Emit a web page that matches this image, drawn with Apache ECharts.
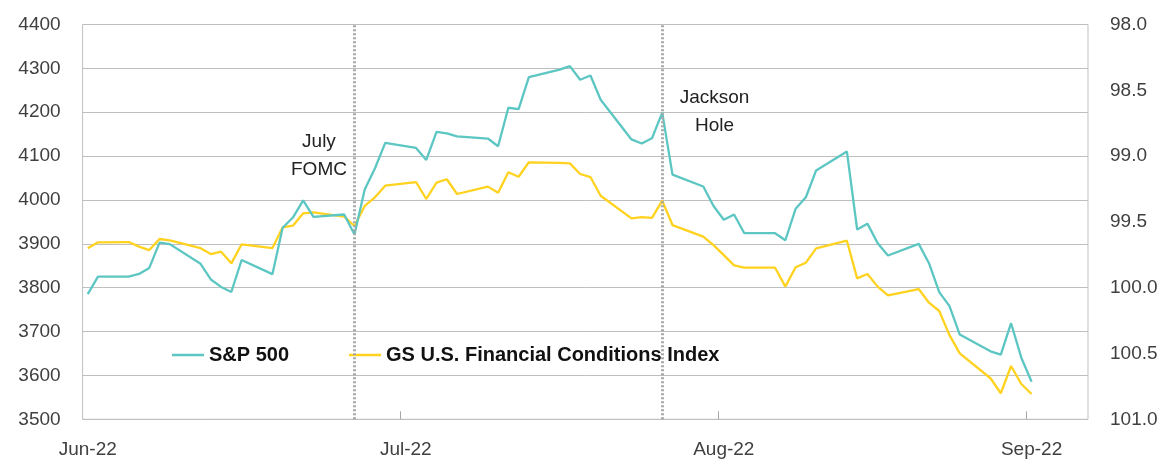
<!DOCTYPE html>
<html>
<head>
<meta charset="utf-8">
<script src="https://cdn.jsdelivr.net/npm/echarts@6/dist/echarts.min.js"></script>
<style>
html,body{margin:0;padding:0;background:#fff;}
#chart{width:1163px;height:462px;}
</style>
</head>
<body>
<div id="chart"></div>
<script>
const dates = ['2022-06-30','2022-07-01','2022-07-04','2022-07-05','2022-07-06','2022-07-07','2022-07-08',
'2022-07-11','2022-07-12','2022-07-13','2022-07-14','2022-07-15','2022-07-18','2022-07-19','2022-07-20',
'2022-07-21','2022-07-22','2022-07-25','2022-07-26','2022-07-27','2022-07-28','2022-07-29','2022-08-01',
'2022-08-02','2022-08-03','2022-08-04','2022-08-05','2022-08-08','2022-08-09','2022-08-10','2022-08-11',
'2022-08-12','2022-08-15','2022-08-16','2022-08-17','2022-08-18','2022-08-19','2022-08-22','2022-08-23',
'2022-08-24','2022-08-25','2022-08-26','2022-08-29','2022-08-30','2022-08-31','2022-09-01','2022-09-02',
'2022-09-05','2022-09-06','2022-09-07','2022-09-08','2022-09-09','2022-09-12','2022-09-13','2022-09-14',
'2022-09-15','2022-09-16','2022-09-19','2022-09-20','2022-09-21','2022-09-22','2022-09-23','2022-09-26',
'2022-09-27','2022-09-28','2022-09-29','2022-09-30'];

const sp500 = [3785.38,3825.33,3825.33,3831.39,3845.08,3902.62,3899.38,
3854.43,3818.80,3801.78,3790.38,3863.16,3830.85,3936.69,3959.90,
3998.95,3961.63,3966.84,3921.05,4023.61,4072.43,4130.29,4118.63,
4091.19,4155.17,4151.94,4145.19,4140.06,4122.47,4210.24,4207.27,
4280.15,4297.14,4305.20,4274.04,4283.74,4228.48,4137.99,4128.73,
4140.77,4199.12,4057.66,4030.61,3986.16,3955.00,3966.85,3924.26,
3924.26,3908.19,3979.87,4006.18,4067.36,4110.41,3932.69,3946.01,
3901.35,3873.33,3899.89,3855.93,3789.93,3757.99,3693.23,3655.04,
3647.29,3719.04,3640.47,3585.62];

const fci = [99.700,99.655,99.653,99.688,99.714,99.630,99.640,
99.700,99.744,99.726,99.815,99.670,99.700,99.541,99.529,
99.435,99.427,99.460,99.531,99.379,99.313,99.225,99.197,
99.326,99.202,99.176,99.288,99.232,99.278,99.123,99.157,
99.047,99.052,99.055,99.136,99.159,99.301,99.473,99.463,
99.470,99.339,99.524,99.612,99.676,99.752,99.830,99.848,
99.848,99.992,99.845,99.810,99.701,99.643,99.929,99.896,
99.992,100.058,100.010,100.114,100.177,100.360,100.499,100.688,
100.802,100.595,100.732,100.808];

const tickLabels = ['Jun-22','Jul-22','Aug-22','Sep-22'];
const tickDates = ['2022-06-30','2022-07-31','2022-08-31','2022-09-30'];
const axisEndDate = '2022-10-06';
const eventDates = ['2022-07-26','2022-08-25'];
const eventLabels = ['July\nFOMC','Jackson\nHole'];
const eventLabelAnchors = [['2022-07-23',4101],['2022-08-30',4202]];

const seriesNames = ['S&P 500','GS U.S. Financial Conditions Index'];
const leftTicks = {min:3500,max:4400,interval:100};
const rightTicks = {min:98,max:101,interval:0.5};

const base = Date.UTC(2022,5,30);
function dayIdx(s){const p=s.split('-').map(Number);return (Date.UTC(p[0],p[1]-1,p[2])-base)/86400000;}

const labelIdx = tickDates.map(dayIdx);
const tickIdx = labelIdx.slice(1).map(v=>v-0.5);
const labelMap = {};
labelIdx.forEach((v,i)=>{labelMap[v]=tickLabels[i];});

const teal = '#5CC6C2';
const yellow = '#FFD21F';
const font = '"Liberation Sans", Arial, sans-serif';

const chart = echarts.init(document.getElementById('chart'), null, {renderer:'canvas'});
chart.setOption({
  animation:false,
  backgroundColor:'#fff',
  grid:{left:82.6,right:75,top:24.5,bottom:42.7,show:true,borderColor:'#BFBFBF',borderWidth:1,backgroundColor:'transparent'},
  legend:{
    left:172, top:345, padding:0, icon:'rect', itemWidth:32, itemHeight:2.5, itemGap:60,
    textStyle:{fontFamily:font,fontSize:20,fontWeight:'bold',color:'#111'},
    data:seriesNames
  },
  xAxis:{
    type:'value', min:-0.5, max:dayIdx(axisEndDate)-0.5,
    axisLine:{show:false},
    splitLine:{show:false},
    axisTick:{show:true,inside:true,length:8,customValues:tickIdx,lineStyle:{color:'#A6A6A6'}},
    axisLabel:{customValues:labelIdx,margin:21,fontFamily:font,fontSize:19,color:'#404040',
      formatter:v=>labelMap[v]||''}
  },
  yAxis:[
    {type:'value',min:leftTicks.min,max:leftTicks.max,interval:leftTicks.interval,
     axisLine:{show:false},axisTick:{show:false},
     splitLine:{lineStyle:{color:'#BFBFBF',width:1}},
     axisLabel:{margin:22,fontFamily:font,fontSize:19,color:'#404040',formatter:v=>String(v)}},
    {type:'value',min:rightTicks.min,max:rightTicks.max,interval:rightTicks.interval,inverse:true,
     axisLine:{show:false},axisTick:{show:false},splitLine:{show:false},
     axisLabel:{margin:22,fontFamily:font,fontSize:19,color:'#404040',formatter:v=>v.toFixed(1)}}
  ],
  series:[
    {name:seriesNames[0],type:'line',yAxisIndex:0,symbol:'none',z:3,
     lineStyle:{color:teal,width:2.3},itemStyle:{color:teal},
     data:dates.map((d,i)=>[dayIdx(d),sp500[i]]),
     markLine:{silent:true,symbol:'none',label:{show:false},
       lineStyle:{color:'#A8A8A8',type:[2,2],width:3},
       data:eventDates.map(d=>({xAxis:dayIdx(d)}))},
     markPoint:{silent:true,symbol:'circle',symbolSize:0,
       label:{show:true,position:'inside',align:'center',verticalAlign:'middle',
         fontFamily:font,fontSize:19,lineHeight:28,color:'#222'},
       data:eventLabelAnchors.map((a,i)=>({coord:[dayIdx(a[0])+(i===0?-0.46:0.1),a[1]],value:eventLabels[i],
         label:{formatter:eventLabels[i]}}))}
    },
    {name:seriesNames[1],type:'line',yAxisIndex:1,symbol:'none',z:2,
     lineStyle:{color:yellow,width:2.3},itemStyle:{color:yellow},
     data:dates.map((d,i)=>[dayIdx(d),fci[i]])}
  ]
});
</script>
</body>
</html>
